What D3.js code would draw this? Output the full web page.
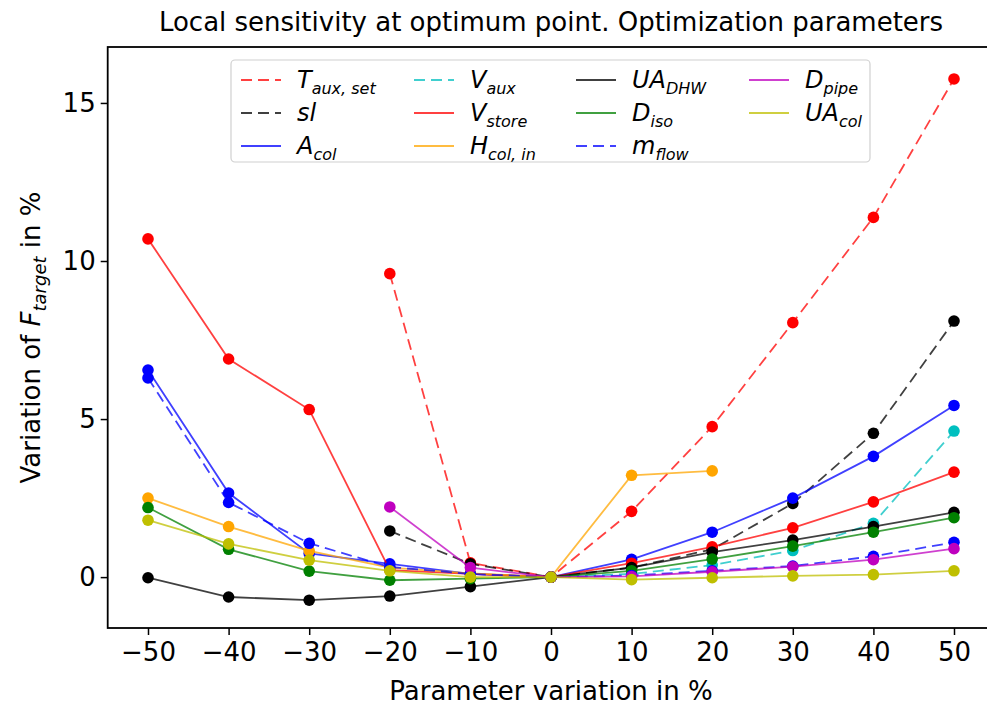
<!DOCTYPE html>
<html>
<head>
<meta charset="utf-8">
<script src="https://cdn.jsdelivr.net/npm/d3@7/dist/d3.min.js"></script>
<style>
  body { margin: 0; background: #fff; }
  text { font-family: "DejaVu Sans", sans-serif; fill: #000; }
</style>
</head>
<body>
<svg id="chart"></svg>
<script>
// x positions (parameter variation in %)
const xAll = [-50, -40, -30, -20, -10, 0, 10, 20, 30, 40, 50];
const xFromM20 = [-20, -10, 0, 10, 20, 30, 40, 50];
const xToP20 = [-50, -40, -30, -20, -10, 0, 10, 20];
const xPos = [0, 10, 20, 30, 40, 50];

// variation of F_target in %
const tAuxSet = [9.6, 0.45, 0, 2.08, 4.76, 8.05, 11.38, 15.76];
const sl = [1.46, 0.42, 0, 0.3, 0.88, 2.33, 4.55, 8.1];
const aCol = [6.55, 2.66, 0.75, 0.42, 0.1, 0, 0.56, 1.42, 2.5, 3.82, 5.43];
const vAux = [0, 0.1, 0.38, 0.84, 1.7, 4.62];
const vStore = [10.7, 6.9, 5.3, 0.22, 0.1, 0, 0.44, 0.96, 1.56, 2.38, 3.32];
const hColIn = [2.5, 1.6, 0.83, 0.3, 0.12, 0, 3.22, 3.36];
const uaDhw = [-0.02, -0.63, -0.73, -0.6, -0.3, 0, 0.3, 0.79, 1.17, 1.6, 2.05];
const dIso = [2.2, 0.88, 0.19, -0.1, -0.05, 0, 0.2, 0.57, 0.98, 1.42, 1.88];
const mFlow = [6.3, 2.36, 1.07, 0.32, 0.1, 0, 0.05, 0.2, 0.35, 0.66, 1.1];
const dPipe = [2.22, 0.3, 0, 0.02, 0.17, 0.33, 0.55, 0.9];
const uaCol = [1.8, 1.05, 0.54, 0.2, 0.0, 0, -0.08, -0.02, 0.04, 0.08, 0.2];

const xTicks = [-50, -40, -30, -20, -10, 0, 10, 20, 30, 40, 50];
const yTicks = [0, 5, 10, 15];

// label: [main, subscript]
const series = [
  { label: ["T", "aux, set"], xs: xFromM20, ys: tAuxSet, color: "#ff0000", dash: true },
  { label: ["sl", ""], xs: xFromM20, ys: sl, color: "#000000", dash: true },
  { label: ["A", "col"], xs: xAll, ys: aCol, color: "#0000ff", dash: false },
  { label: ["V", "aux"], xs: xPos, ys: vAux, color: "#00bfbf", dash: true },
  { label: ["V", "store"], xs: xAll, ys: vStore, color: "#ff0000", dash: false },
  { label: ["H", "col, in"], xs: xToP20, ys: hColIn, color: "#ffa500", dash: false },
  { label: ["UA", "DHW"], xs: xAll, ys: uaDhw, color: "#000000", dash: false },
  { label: ["D", "iso"], xs: xAll, ys: dIso, color: "#008000", dash: false },
  { label: ["m", "flow"], xs: xAll, ys: mFlow, color: "#0000ff", dash: true },
  { label: ["D", "pipe"], xs: xFromM20, ys: dPipe, color: "#bf00bf", dash: false },
  { label: ["UA", "col"], xs: xAll, ys: uaCol, color: "#bfbf00", dash: false }
];

const W = 987, H = 711;
const plot = { left: 107.7, right: 994.3, top: 47, bottom: 628 };

const svg = d3.select("#chart")
    .attr("width", W)
    .attr("height", H);

const x = d3.scaleLinear().domain([-55, 55]).range([plot.left, plot.right]);
const y = d3.scaleLinear().domain([-1.61, 16.77]).range([plot.bottom, plot.top]);

const fmt = d => d < 0 ? "\u2212" + Math.abs(d) : String(d);

// x axis
const xAxis = svg.append("g")
    .attr("transform", `translate(0, ${plot.bottom})`)
    .call(d3.axisBottom(x).tickValues(xTicks).tickFormat(fmt).tickSizeOuter(0).tickSize(7).tickPadding(8));

// y axis
const yAxis = svg.append("g")
    .attr("transform", `translate(${plot.left}, 0)`)
    .call(d3.axisLeft(y).tickValues(yTicks).tickFormat(fmt).tickSizeOuter(0).tickSize(7).tickPadding(5));

[xAxis, yAxis].forEach(g => {
  g.select(".domain").remove();
  g.selectAll(".tick line").attr("stroke", "#000").attr("stroke-width", 1.5);
  g.selectAll(".tick text").attr("font-size", 26).attr("font-family", "DejaVu Sans");
});

// frame
svg.append("rect")
    .attr("x", plot.left)
    .attr("y", plot.top)
    .attr("width", plot.right - plot.left)
    .attr("height", plot.bottom - plot.top)
    .attr("fill", "none")
    .attr("stroke", "#000")
    .attr("stroke-width", 1.8);

// series
const line = d3.line().x(d => x(d[0])).y(d => y(d[1]));

series.forEach(s => {
  const pts = s.xs.map((v, i) => [v, s.ys[i]]);
  const g = svg.append("g");
  g.append("path")
      .attr("d", line(pts))
      .attr("fill", "none")
      .attr("stroke", s.color)
      .attr("stroke-opacity", 0.75)
      .attr("stroke-width", 1.8)
      .attr("stroke-dasharray", s.dash ? "11,6" : null);
  g.selectAll("circle")
      .data(pts)
      .enter()
      .append("circle")
      .attr("cx", d => x(d[0]))
      .attr("cy", d => y(d[1]))
      .attr("r", 5.8)
      .attr("fill", s.color);
});

// title and axis labels
svg.append("text")
    .attr("x", (plot.left + plot.right) / 2)
    .attr("y", 31)
    .attr("text-anchor", "middle")
    .attr("font-size", 26)
    .text("Local sensitivity at optimum point. Optimization parameters");

svg.append("text")
    .attr("x", (plot.left + plot.right) / 2)
    .attr("y", 700)
    .attr("text-anchor", "middle")
    .attr("font-size", 26)
    .text("Parameter variation in %");

const yl = svg.append("text")
    .attr("transform", `translate(40, ${(plot.top + plot.bottom) / 2}) rotate(-90)`)
    .attr("text-anchor", "middle")
    .attr("font-size", 26);
yl.append("tspan").text("Variation of ");
yl.append("tspan").attr("font-style", "italic").text("F");
yl.append("tspan").attr("font-style", "italic").attr("font-size", 18).attr("dy", 6).text("target");
yl.append("tspan").attr("dy", -6).text(" in %");

// legend
const legend = svg.append("g");
legend.append("rect")
    .attr("x", 231)
    .attr("y", 60)
    .attr("width", 639)
    .attr("height", 102)
    .attr("rx", 4)
    .attr("fill", "#fff")
    .attr("fill-opacity", 0.85)
    .attr("stroke", "#d0d0d0")
    .attr("stroke-width", 1.2);

const colX = [241, 414, 576, 749];
const rowY = [80, 113, 146];

series.forEach((s, i) => {
  const cx = colX[Math.floor(i / 3)];
  const cy = rowY[i % 3];
  legend.append("line")
      .attr("x1", cx).attr("x2", cx + 40)
      .attr("y1", cy).attr("y2", cy)
      .attr("stroke", s.color)
      .attr("stroke-opacity", 0.75)
      .attr("stroke-width", 1.8)
      .attr("stroke-dasharray", s.dash ? "11,6" : null);
  const t = legend.append("text")
      .attr("x", cx + 56)
      .attr("y", cy + 8)
      .attr("font-size", 24)
      .attr("font-style", "italic");
  t.append("tspan").text(s.label[0]);
  if (s.label[1]) {
    t.append("tspan").attr("font-size", 16).attr("dy", 6).text(s.label[1]);
  }
});
</script>
</body>
</html>
